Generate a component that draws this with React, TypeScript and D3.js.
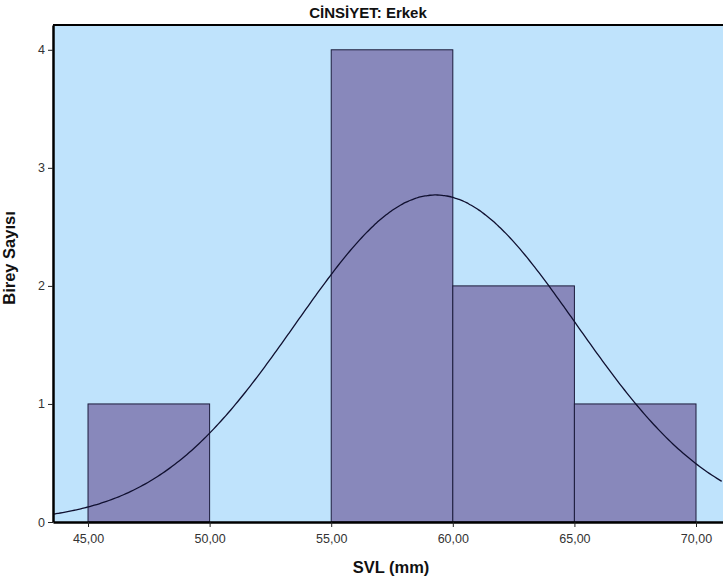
import React, { useEffect, useRef } from 'react'
import * as d3 from 'd3'

const title = 'CİNSİYET: Erkek'
const xLabel = 'SVL (mm)'
const yLabel = 'Birey Sayısı'

const binStarts = [45, 50, 55, 60, 65]
const binWidth = 5
const counts = [1, 0, 4, 2, 1]
const xTicks = [45, 50, 55, 60, 65, 70]
const yTicks = [0, 1, 2, 3, 4]

// normal curve fitted by SPSS
const fitMean = 59.3
const fitSd = 5.76
const fitN = 8

const W = 723
const H = 584
const margin = { top: 25, right: 0, bottom: 62, left: 53 }
const font = 'Liberation Sans, Arial, sans-serif'

const App = () => {
  const ref = useRef<SVGSVGElement>(null)

  useEffect(() => {
    const svg = d3.select(ref.current)
    svg.selectAll('*').remove()

    const x = d3.scaleLinear().domain([43.56, 71.11]).range([margin.left, W - margin.right])
    const y = d3.scaleLinear().domain([0, 4.21]).range([H - margin.bottom, margin.top])

    svg
      .append('rect')
      .attr('x', margin.left)
      .attr('y', margin.top)
      .attr('width', W - margin.left - margin.right)
      .attr('height', H - margin.top - margin.bottom)
      .attr('fill', '#bfe3fc')

    const bars = binStarts.map((b, i) => ({ x0: b, x1: b + binWidth, n: counts[i] }))
    svg
      .selectAll('.bar')
      .data(bars.filter((d) => d.n > 0))
      .join('rect')
      .attr('x', (d) => x(d.x0))
      .attr('y', (d) => y(d.n))
      .attr('width', (d) => x(d.x1) - x(d.x0))
      .attr('height', (d) => y(0) - y(d.n))
      .attr('fill', '#8888bb')
      .attr('stroke', '#1c1c3c')
      .attr('stroke-width', 1)

    const pdf = (v: number) =>
      (fitN * binWidth) / (fitSd * Math.sqrt(2 * Math.PI)) *
      Math.exp(-0.5 * ((v - fitMean) / fitSd) ** 2)
    const curveX = d3.range(43.56, 71.12, 0.1)
    svg
      .append('path')
      .datum(curveX)
      .attr('fill', 'none')
      .attr('stroke', '#101030')
      .attr('stroke-width', 1.3)
      .attr(
        'd',
        d3
          .line<number>()
          .x((d) => x(d))
          .y((d) => y(pdf(d)))
          .curve(d3.curveBasis)
      )

    // frame
    svg
      .append('line')
      .attr('x1', margin.left)
      .attr('x2', W)
      .attr('y1', margin.top)
      .attr('y2', margin.top)
      .attr('stroke', '#000')
      .attr('stroke-width', 2)

    const xAxis = svg
      .append('g')
      .attr('transform', `translate(0, ${H - margin.bottom})`)
      .call(
        d3
          .axisBottom(x)
          .tickValues(xTicks)
          .tickSize(5)
          .tickSizeOuter(0)
          .tickFormat((d) => d3.format('.2f')(+d).replace('.', ','))
      )
    xAxis.select('.domain').attr('stroke', '#000').attr('stroke-width', 2.5)
    xAxis.selectAll('.tick line').attr('stroke', '#222')
    xAxis
      .selectAll('.tick text')
      .attr('font-family', font)
      .attr('font-size', 12.5)
      .attr('fill', '#333')
      .attr('y', 21)
      .attr('dy', 0)

    const yAxis = svg
      .append('g')
      .attr('transform', `translate(${margin.left}, 0)`)
      .call(d3.axisLeft(y).tickValues(yTicks).tickSize(5).tickSizeOuter(0).tickFormat(d3.format('d')))
    yAxis.select('.domain').attr('stroke', '#000').attr('stroke-width', 2.5)
    yAxis.selectAll('.tick line').attr('stroke', '#222')
    yAxis
      .selectAll('.tick text')
      .attr('font-family', font)
      .attr('font-size', 12.5)
      .attr('fill', '#333')
      .attr('x', -8)

    svg
      .append('text')
      .attr('x', 368)
      .attr('y', 18)
      .attr('text-anchor', 'middle')
      .attr('font-family', font)
      .attr('font-weight', 'bold')
      .attr('font-size', 15)
      .attr('fill', '#111')
      .text(title)

    svg
      .append('text')
      .attr('x', 391)
      .attr('y', 573)
      .attr('text-anchor', 'middle')
      .attr('font-family', font)
      .attr('font-weight', 'bold')
      .attr('font-size', 16.5)
      .attr('fill', '#111')
      .text(xLabel)

    svg
      .append('text')
      .attr('transform', `translate(15, 258) rotate(-90)`)
      .attr('text-anchor', 'middle')
      .attr('font-family', font)
      .attr('font-weight', 'bold')
      .attr('font-size', 16.5)
      .attr('fill', '#111')
      .text(yLabel)
  }, [])

  return (
    <svg
      ref={ref}
      width={W}
      height={H}
      style={{ position: 'absolute', left: 0, top: 0, background: '#fff' }}
    />
  )
}

export default App
